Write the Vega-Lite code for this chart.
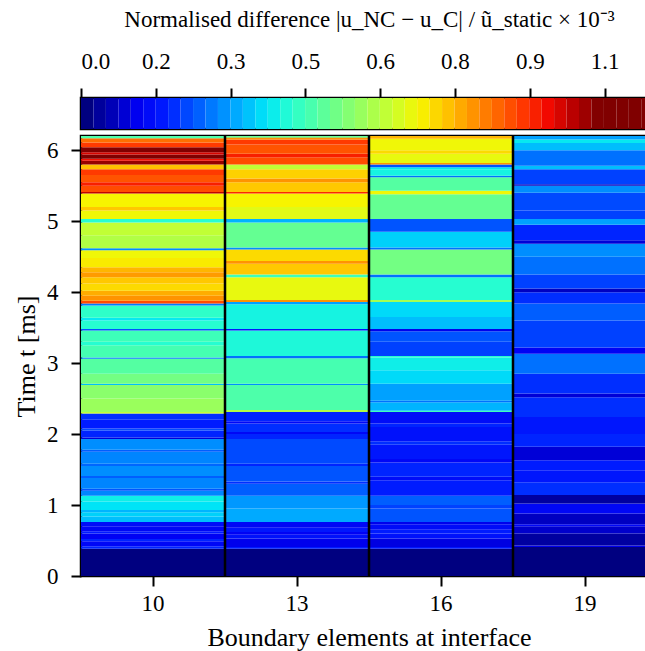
{
  "$schema": "https://vega.github.io/schema/vega-lite/v6.json",
  "padding": {"left": 12, "top": 6, "right": 0, "bottom": 0},
  "bounds": "flush",
  "spacing": 7,
  "config": {
    "font": "Liberation Serif",
    "view": {"stroke": "black", "strokeWidth": 2.5},
    "axis": {
      "labelFont": "Liberation Serif", "titleFont": "Liberation Serif",
      "labelFontSize": 23, "titleFontSize": 26, "titleFontWeight": "normal",
      "labelColor": "black", "titleColor": "black", "tickColor": "black",
      "tickWidth": 2, "tickSize": 10, "domain": false, "grid": false
    }
  },
  "vconcat": [
    {
      "width": 576, "height": 31,
      "data": {"values": [
        {"a":0,"b":0.0258},{"a":0.0258,"b":0.0516},{"a":0.0516,"b":0.0774},{"a":0.0774,"b":0.1032},
        {"a":0.1032,"b":0.129},{"a":0.129,"b":0.1548},{"a":0.1548,"b":0.1806},{"a":0.1806,"b":0.2064},
        {"a":0.2064,"b":0.2322},{"a":0.2322,"b":0.258},{"a":0.258,"b":0.2838},{"a":0.2838,"b":0.3096},
        {"a":0.3096,"b":0.3354},{"a":0.3354,"b":0.3612},{"a":0.3612,"b":0.387},{"a":0.387,"b":0.4128},
        {"a":0.4128,"b":0.4386},{"a":0.4386,"b":0.4644},{"a":0.4644,"b":0.4902},{"a":0.4902,"b":0.516},
        {"a":0.516,"b":0.5418},{"a":0.5418,"b":0.5676},{"a":0.5676,"b":0.5934},{"a":0.5934,"b":0.6192},
        {"a":0.6192,"b":0.645},{"a":0.645,"b":0.6708},{"a":0.6708,"b":0.6966},{"a":0.6966,"b":0.7224},
        {"a":0.7224,"b":0.7482},{"a":0.7482,"b":0.774},{"a":0.774,"b":0.7998},{"a":0.7998,"b":0.8256},
        {"a":0.8256,"b":0.8514},{"a":0.8514,"b":0.8772},{"a":0.8772,"b":0.903},{"a":0.903,"b":0.9288},
        {"a":0.9288,"b":0.9546},{"a":0.9546,"b":0.9804},{"a":0.9804,"b":1.0062},{"a":1.0062,"b":1.032},
        {"a":1.032,"b":1.0578},{"a":1.0578,"b":1.0836},{"a":1.0836,"b":1.1094},{"a":1.1094,"b":1.1352},
        {"a":1.1352,"b":1.161},{"a":1.161,"b":1.1868},{"a":1.1868,"b":1.2126}
      ]},
      "mark": {"type": "rect", "clip": true},
      "encoding": {
        "x": {"field": "a", "type": "quantitative",
          "scale": {"domain": [0, 1.1936], "nice": false, "zero": false},
          "axis": {"orient": "top", "values": [0, 0.155, 0.31, 0.465, 0.62, 0.775, 0.93, 1.085],
            "format": ".1f", "labelPadding": 15, "titlePadding": 19, "titleFontSize": 23,
            "title": "Normalised difference |u_NC − u_C| / ũ_static × 10⁻³"}},
        "x2": {"field": "b"},
        "color": {"field": "a", "type": "quantitative", "legend": null,
          "scale": {"domain": [0,0.053,0.106,0.159,0.212,0.265,0.318,0.371,0.424,0.477,0.53,0.583,0.636,0.689,0.742,0.795,0.848,0.901,0.954,1.007,1.06],
            "range": ["#000080","#0000B9","#0000F3","#001AFF","#004CFF","#0080FF","#00B2FF","#00E5F7","#29FFCE","#52FFA4","#7BFF7B","#A4FF52","#CEFF29","#F7F500","#FFC600","#FF9700","#FF6800","#FF3900","#F30900","#B90000","#800000"],
            "clamp": true, "interpolate": "rgb"}}
      }
    },
    {
      "width": 576, "height": 440,
      "layer": [
        {
          "data": {"values": [
            {"n":"10","a":0,"b":0.385,"v":0},{"n":"10","a":0.385,"b":0.42,"v":0.17},{"n":"10","a":0.42,"b":0.49,"v":0.12},{"n":"10","a":0.49,"b":0.52,"v":0.17},
            {"n":"10","a":0.52,"b":0.6,"v":0.11},{"n":"10","a":0.6,"b":0.63,"v":0.16},{"n":"10","a":0.63,"b":0.7,"v":0.12},{"n":"10","a":0.7,"b":0.76,"v":0.13},
            {"n":"10","a":0.76,"b":0.84,"v":0.33},{"n":"10","a":0.84,"b":0.9,"v":0.35},{"n":"10","a":0.9,"b":0.93,"v":0.32},{"n":"10","a":0.93,"b":1.05,"v":0.37},
            {"n":"10","a":1.05,"b":1.13,"v":0.39},{"n":"10","a":1.13,"b":1.2,"v":0.27},{"n":"10","a":1.2,"b":1.23,"v":0.22},{"n":"10","a":1.23,"b":1.38,"v":0.27},
            {"n":"10","a":1.38,"b":1.41,"v":0.23},{"n":"10","a":1.41,"b":1.55,"v":0.28},{"n":"10","a":1.55,"b":1.58,"v":0.24},{"n":"10","a":1.58,"b":1.75,"v":0.27},
            {"n":"10","a":1.75,"b":1.78,"v":0.23},{"n":"10","a":1.78,"b":1.93,"v":0.28},{"n":"10","a":1.93,"b":1.95,"v":0.08},{"n":"10","a":1.95,"b":2.05,"v":0.17},
            {"n":"10","a":2.05,"b":2.08,"v":0.21},{"n":"10","a":2.08,"b":2.2,"v":0.16},{"n":"10","a":2.2,"b":2.29,"v":0.18},{"n":"10","a":2.29,"b":2.31,"v":0.62},
            {"n":"10","a":2.31,"b":2.5,"v":0.57},{"n":"10","a":2.5,"b":2.69,"v":0.55},{"n":"10","a":2.69,"b":2.71,"v":0.33},{"n":"10","a":2.71,"b":2.85,"v":0.52},
            {"n":"10","a":2.85,"b":3.06,"v":0.48},{"n":"10","a":3.06,"b":3.08,"v":0.26},{"n":"10","a":3.08,"b":3.25,"v":0.46},{"n":"10","a":3.25,"b":3.3,"v":0.42},
            {"n":"10","a":3.3,"b":3.46,"v":0.45},{"n":"10","a":3.46,"b":3.48,"v":0.22},{"n":"10","a":3.48,"b":3.6,"v":0.42},{"n":"10","a":3.6,"b":3.64,"v":0.38},
            {"n":"10","a":3.64,"b":3.81,"v":0.43},{"n":"10","a":3.81,"b":3.84,"v":0.26},{"n":"10","a":3.84,"b":3.88,"v":0.88},{"n":"10","a":3.88,"b":3.95,"v":0.8},
            {"n":"10","a":3.95,"b":4.02,"v":0.77},{"n":"10","a":4.02,"b":4.12,"v":0.72},{"n":"10","a":4.12,"b":4.21,"v":0.74},{"n":"10","a":4.21,"b":4.28,"v":0.79},
            {"n":"10","a":4.28,"b":4.35,"v":0.76},{"n":"10","a":4.35,"b":4.48,"v":0.7},{"n":"10","a":4.48,"b":4.59,"v":0.68},{"n":"10","a":4.59,"b":4.62,"v":0.28},
            {"n":"10","a":4.62,"b":4.8,"v":0.6},{"n":"10","a":4.8,"b":4.98,"v":0.62},{"n":"10","a":4.98,"b":5.03,"v":0.42},{"n":"10","a":5.03,"b":5.15,"v":0.68},
            {"n":"10","a":5.15,"b":5.2,"v":0.74},{"n":"10","a":5.2,"b":5.39,"v":0.69},{"n":"10","a":5.39,"b":5.41,"v":1.0},{"n":"10","a":5.41,"b":5.5,"v":0.88},
            {"n":"10","a":5.5,"b":5.55,"v":0.93},{"n":"10","a":5.55,"b":5.65,"v":0.87},{"n":"10","a":5.65,"b":5.73,"v":0.9},{"n":"10","a":5.73,"b":5.8,"v":0.75},
            {"n":"10","a":5.8,"b":5.85,"v":1.04},{"n":"10","a":5.85,"b":5.88,"v":0.95},{"n":"10","a":5.88,"b":5.94,"v":1.08},{"n":"10","a":5.94,"b":5.97,"v":0.98},
            {"n":"10","a":5.97,"b":6.04,"v":1.1},{"n":"10","a":6.04,"b":6.11,"v":0.9},{"n":"10","a":6.11,"b":6.17,"v":0.84},{"n":"10","a":6.17,"b":6.2,"v":0.47},

            {"n":"13","a":0,"b":0.385,"v":0},{"n":"13","a":0.385,"b":0.41,"v":0.16},{"n":"13","a":0.41,"b":0.53,"v":0.1},{"n":"13","a":0.53,"b":0.58,"v":0.14},
            {"n":"13","a":0.58,"b":0.62,"v":0.11},{"n":"13","a":0.62,"b":0.68,"v":0.15},{"n":"13","a":0.68,"b":0.76,"v":0.12},{"n":"13","a":0.76,"b":0.95,"v":0.31},
            {"n":"13","a":0.95,"b":1.13,"v":0.29},{"n":"13","a":1.13,"b":1.3,"v":0.23},{"n":"13","a":1.3,"b":1.33,"v":0.18},{"n":"13","a":1.33,"b":1.55,"v":0.22},
            {"n":"13","a":1.55,"b":1.58,"v":0.17},{"n":"13","a":1.58,"b":1.93,"v":0.21},{"n":"13","a":1.93,"b":2.0,"v":0.17},{"n":"13","a":2.0,"b":2.03,"v":0.12},
            {"n":"13","a":2.03,"b":2.15,"v":0.18},{"n":"13","a":2.15,"b":2.18,"v":0.12},{"n":"13","a":2.18,"b":2.31,"v":0.17},{"n":"13","a":2.31,"b":2.34,"v":0.6},
            {"n":"13","a":2.34,"b":2.69,"v":0.47},{"n":"13","a":2.69,"b":2.71,"v":0.28},{"n":"13","a":2.71,"b":3.07,"v":0.46},{"n":"13","a":3.07,"b":3.1,"v":0.25},
            {"n":"13","a":3.1,"b":3.46,"v":0.41},{"n":"13","a":3.46,"b":3.48,"v":0.15},{"n":"13","a":3.48,"b":3.83,"v":0.4},{"n":"13","a":3.83,"b":3.86,"v":0.3},
            {"n":"13","a":3.86,"b":3.89,"v":0.8},{"n":"13","a":3.89,"b":4.21,"v":0.67},{"n":"13","a":4.21,"b":4.25,"v":0.45},{"n":"13","a":4.25,"b":4.4,"v":0.74},
            {"n":"13","a":4.4,"b":4.44,"v":0.8},{"n":"13","a":4.44,"b":4.6,"v":0.72},{"n":"13","a":4.6,"b":4.63,"v":0.28},{"n":"13","a":4.63,"b":4.98,"v":0.5},
            {"n":"13","a":4.98,"b":5.03,"v":0.32},{"n":"13","a":5.03,"b":5.2,"v":0.66},{"n":"13","a":5.2,"b":5.39,"v":0.69},{"n":"13","a":5.39,"b":5.41,"v":0.92},
            {"n":"13","a":5.41,"b":5.55,"v":0.74},{"n":"13","a":5.55,"b":5.6,"v":0.8},{"n":"13","a":5.6,"b":5.73,"v":0.73},{"n":"13","a":5.73,"b":5.8,"v":0.62},
            {"n":"13","a":5.8,"b":5.9,"v":0.88},{"n":"13","a":5.9,"b":5.95,"v":0.93},{"n":"13","a":5.95,"b":6.08,"v":0.87},{"n":"13","a":6.08,"b":6.15,"v":0.9},
            {"n":"13","a":6.15,"b":6.18,"v":0.8},{"n":"13","a":6.18,"b":6.2,"v":0.5},

            {"n":"16","a":0,"b":0.385,"v":0},{"n":"16","a":0.385,"b":0.41,"v":0.15},{"n":"16","a":0.41,"b":0.53,"v":0.09},{"n":"16","a":0.53,"b":0.6,"v":0.14},
            {"n":"16","a":0.6,"b":0.65,"v":0.16},{"n":"16","a":0.65,"b":0.73,"v":0.13},{"n":"16","a":0.73,"b":0.76,"v":0.1},{"n":"16","a":0.76,"b":0.95,"v":0.22},
            {"n":"16","a":0.95,"b":1.0,"v":0.2},{"n":"16","a":1.0,"b":1.13,"v":0.23},{"n":"16","a":1.13,"b":1.35,"v":0.16},{"n":"16","a":1.35,"b":1.4,"v":0.13},
            {"n":"16","a":1.4,"b":1.6,"v":0.17},{"n":"16","a":1.6,"b":1.65,"v":0.12},{"n":"16","a":1.65,"b":1.85,"v":0.15},{"n":"16","a":1.85,"b":1.9,"v":0.18},
            {"n":"16","a":1.9,"b":2.1,"v":0.14},{"n":"16","a":2.1,"b":2.15,"v":0.17},{"n":"16","a":2.15,"b":2.31,"v":0.13},{"n":"16","a":2.31,"b":2.33,"v":0.45},
            {"n":"16","a":2.33,"b":2.45,"v":0.32},{"n":"16","a":2.45,"b":2.47,"v":0.25},{"n":"16","a":2.47,"b":2.71,"v":0.3},{"n":"16","a":2.71,"b":2.9,"v":0.36},
            {"n":"16","a":2.9,"b":3.08,"v":0.39},{"n":"16","a":3.08,"b":3.1,"v":0.42},{"n":"16","a":3.1,"b":3.3,"v":0.2},{"n":"16","a":3.3,"b":3.45,"v":0.22},
            {"n":"16","a":3.45,"b":3.48,"v":0.1},{"n":"16","a":3.48,"b":3.65,"v":0.33},{"n":"16","a":3.65,"b":3.86,"v":0.36},{"n":"16","a":3.86,"b":3.89,"v":0.58},
            {"n":"16","a":3.89,"b":4.21,"v":0.42},{"n":"16","a":4.21,"b":4.25,"v":0.25},{"n":"16","a":4.25,"b":4.6,"v":0.52},{"n":"16","a":4.6,"b":4.63,"v":0.25},
            {"n":"16","a":4.63,"b":4.85,"v":0.35},{"n":"16","a":4.85,"b":5.03,"v":0.22},{"n":"16","a":5.03,"b":5.38,"v":0.5},{"n":"16","a":5.38,"b":5.43,"v":0.68},
            {"n":"16","a":5.43,"b":5.62,"v":0.48},{"n":"16","a":5.62,"b":5.64,"v":0.25},{"n":"16","a":5.64,"b":5.73,"v":0.4},{"n":"16","a":5.73,"b":5.76,"v":0.38},
            {"n":"16","a":5.76,"b":5.8,"v":0.22},{"n":"16","a":5.8,"b":5.82,"v":0.8},{"n":"16","a":5.82,"b":5.95,"v":0.67},{"n":"16","a":5.95,"b":6.0,"v":0.72},
            {"n":"16","a":6.0,"b":6.16,"v":0.68},{"n":"16","a":6.16,"b":6.2,"v":0.76},

            {"n":"19","a":0,"b":0.41,"v":0},{"n":"19","a":0.41,"b":0.43,"v":0.1},{"n":"19","a":0.43,"b":0.6,"v":0.03},{"n":"19","a":0.6,"b":0.7,"v":0.07},
            {"n":"19","a":0.7,"b":0.73,"v":0.12},{"n":"19","a":0.73,"b":0.88,"v":0.06},{"n":"19","a":0.88,"b":1.02,"v":0.12},{"n":"19","a":1.02,"b":1.14,"v":0.03},
            {"n":"19","a":1.14,"b":1.32,"v":0.18},{"n":"19","a":1.32,"b":1.49,"v":0.15},{"n":"19","a":1.49,"b":1.63,"v":0.16},{"n":"19","a":1.63,"b":1.82,"v":0.08},
            {"n":"19","a":1.82,"b":2.0,"v":0.17},{"n":"19","a":2.0,"b":2.24,"v":0.15},{"n":"19","a":2.24,"b":2.52,"v":0.18},{"n":"19","a":2.52,"b":2.57,"v":0.08},
            {"n":"19","a":2.57,"b":2.85,"v":0.18},{"n":"19","a":2.85,"b":3.13,"v":0.25},{"n":"19","a":3.13,"b":3.22,"v":0.11},{"n":"19","a":3.22,"b":3.6,"v":0.2},
            {"n":"19","a":3.6,"b":3.84,"v":0.23},{"n":"19","a":3.84,"b":4.0,"v":0.18},{"n":"19","a":4.0,"b":4.05,"v":0.06},{"n":"19","a":4.05,"b":4.25,"v":0.2},
            {"n":"19","a":4.25,"b":4.5,"v":0.25},{"n":"19","a":4.5,"b":4.68,"v":0.28},{"n":"19","a":4.68,"b":4.73,"v":0.08},{"n":"19","a":4.73,"b":4.95,"v":0.17},
            {"n":"19","a":4.95,"b":5.03,"v":0.3},{"n":"19","a":5.03,"b":5.15,"v":0.2},{"n":"19","a":5.15,"b":5.4,"v":0.21},{"n":"19","a":5.4,"b":5.5,"v":0.28},
            {"n":"19","a":5.5,"b":5.52,"v":0.06},{"n":"19","a":5.52,"b":5.73,"v":0.2},{"n":"19","a":5.73,"b":5.78,"v":0.33},{"n":"19","a":5.78,"b":6.0,"v":0.25},
            {"n":"19","a":6.0,"b":6.1,"v":0.33},{"n":"19","a":6.1,"b":6.15,"v":0.38},{"n":"19","a":6.15,"b":6.2,"v":0.3}
          ]},
          "mark": {"type": "rect"},
          "encoding": {
            "x": {"field": "n", "type": "ordinal",
              "scale": {"domain": ["10", "13", "16", "19"], "paddingInner": 0, "paddingOuter": 0},
              "axis": {"title": "Boundary elements at interface", "labelAngle": 0, "labelPadding": 6, "titlePadding": 9}},
            "y": {"field": "a", "type": "quantitative",
              "scale": {"domain": [0, 6.2], "nice": false, "zero": false},
              "axis": {"title": "Time t [ms]", "values": [0, 1, 2, 3, 4, 5, 6], "format": "d", "labelPadding": 13, "titlePadding": 7}},
            "y2": {"field": "b"},
            "color": {"field": "v", "type": "quantitative", "legend": null,
              "scale": {"domain": [0,0.053,0.106,0.159,0.212,0.265,0.318,0.371,0.424,0.477,0.53,0.583,0.636,0.689,0.742,0.795,0.848,0.901,0.954,1.007,1.06],
                "range": ["#000080","#0000B9","#0000F3","#001AFF","#004CFF","#0080FF","#00B2FF","#00E5F7","#29FFCE","#52FFA4","#7BFF7B","#A4FF52","#CEFF29","#F7F500","#FFC600","#FF9700","#FF6800","#FF3900","#F30900","#B90000","#800000"],
                "clamp": true, "interpolate": "rgb"}}
          }
        },
        {
          "data": {"values": [{"n": "13"}, {"n": "16"}, {"n": "19"}]},
          "mark": {"type": "rule", "color": "black", "strokeWidth": 2.5},
          "encoding": {"x": {"field": "n", "type": "ordinal", "bandPosition": 0}}
        }
      ]
    }
  ]
}
